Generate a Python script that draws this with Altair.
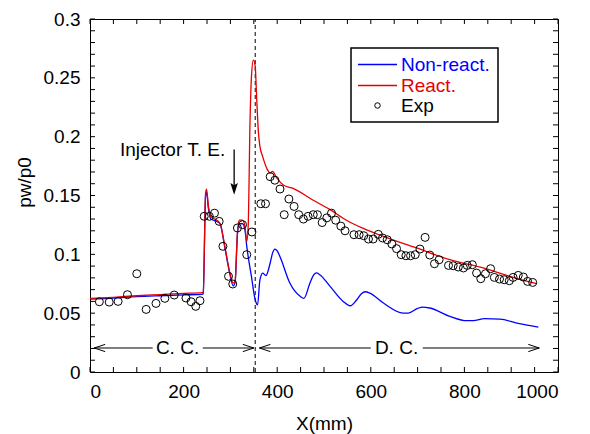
import altair as alt
import pandas as pd

FONT = "Liberation Sans"

# ---------------- data ----------------
series_names = ["Non-react.", "React.", "Exp"]
series_colors = ["#0000ff", "#e60000", "#000000"]

nr_x = [0, 50, 100, 150, 200, 240, 242, 247, 249, 253, 258, 271, 278, 288, 299, 306, 310,
        315, 319, 326, 331, 335, 345, 353, 358, 363, 369, 376, 385, 390, 395, 400, 406, 427,
        449, 457, 470, 478, 484, 491, 513, 541, 556, 570, 580, 588, 598, 627, 669, 680, 700,
        710, 726, 769, 805, 819, 843, 876, 912, 958]
nr_y = [0.0620, 0.0628, 0.0640, 0.0648, 0.0655, 0.0660, 0.0670, 0.1500, 0.1530, 0.1390,
        0.1300, 0.1280, 0.1260, 0.1060, 0.0830, 0.0733, 0.0760, 0.1170, 0.1260, 0.1260,
        0.1210, 0.1068, 0.0810, 0.0614, 0.0570, 0.0780, 0.0840, 0.0820, 0.0926, 0.1010,
        0.1045, 0.1030, 0.0980, 0.0756, 0.0643, 0.0626, 0.0756, 0.0825, 0.0842, 0.0827,
        0.0728, 0.0600, 0.0563, 0.0614, 0.0665, 0.0682, 0.0670, 0.0586, 0.0501, 0.0501,
        0.0540, 0.0552, 0.0544, 0.0473, 0.0436, 0.0436, 0.0453, 0.0450, 0.0416, 0.0382]

r_x = [0, 50, 100, 150, 200, 240, 242, 247, 249, 253, 258, 271, 278, 288, 299, 306, 310,
       315, 319, 326, 331, 335, 338, 342, 345, 349, 353, 356, 360, 363, 369, 379, 385,
       390, 399, 413, 434, 477, 513, 548, 584, 627, 698, 769, 840, 897, 955]
r_y = [0.0625, 0.0635, 0.0648, 0.0658, 0.0668, 0.0675, 0.0680, 0.1520, 0.1555, 0.1410,
       0.1320, 0.1290, 0.1260, 0.1070, 0.0840, 0.0756, 0.0770, 0.1180, 0.1290, 0.1290,
       0.1240, 0.1110, 0.1240, 0.2140, 0.2510, 0.2650, 0.2600, 0.2340, 0.2030, 0.1920,
       0.1830, 0.1720, 0.1690, 0.1705, 0.1650, 0.1590, 0.1560, 0.1460, 0.1380, 0.1290,
       0.1220, 0.1152, 0.1054, 0.0954, 0.0884, 0.0813, 0.0750]

exp_x = [20, 41, 60, 80, 100, 120, 141, 160, 180, 205, 216, 226, 235, 244, 255, 266, 276,
         284, 296, 305, 315, 326, 335, 346, 365, 375, 385, 395, 406, 415, 425, 436, 446,
         456, 466, 477, 486, 496, 506, 516, 525, 536, 545, 564, 575, 585, 595, 605, 616,
         625, 635, 645, 655, 665, 675, 685, 695, 705, 716, 726, 736, 746, 766, 776, 787,
         798, 806, 817, 826, 835, 845, 856, 864, 875, 885, 896, 904, 915, 926, 935, 946]
exp_y = [0.0597, 0.0594, 0.0600, 0.0657, 0.0835, 0.0532, 0.0583, 0.0626, 0.0654, 0.0629,
         0.0597, 0.0558, 0.0606, 0.1323, 0.1323, 0.1350, 0.1280, 0.1068, 0.0813, 0.0748,
         0.1224, 0.1252, 0.0997, 0.1190, 0.1430, 0.1430, 0.1660, 0.1630, 0.1555, 0.1337,
         0.1470, 0.1407, 0.1337, 0.1300, 0.1323, 0.1337, 0.1337, 0.1270, 0.1310, 0.1350,
         0.1290, 0.1240, 0.1200, 0.1167, 0.1167, 0.1158, 0.1130, 0.1130, 0.1170, 0.1139,
         0.1124, 0.1088, 0.1048, 0.0997, 0.0988, 0.0988, 0.0997, 0.1045, 0.1144, 0.0994,
         0.0920, 0.0954, 0.0906, 0.0903, 0.0892, 0.0884, 0.0906, 0.0912, 0.0841, 0.0793,
         0.0835, 0.0878, 0.0804, 0.0790, 0.0784, 0.0776, 0.0804, 0.0821, 0.0807, 0.0770,
         0.0761]

x_label_values = [0, 200, 400, 600, 800, 1000]
y_label_values = [0, 0.05, 0.1, 0.15, 0.2, 0.25, 0.3]
x_tick_values = list(range(0, 1001, 50))
y_tick_values = [round(i * 0.01, 2) for i in range(31)]

# annotations
dash_x = [353]
dash_y = [0, 0.3]
zone_labels = ["C. C.", "D. C."]
zone_label_x = [187, 655]
zone_y = 0.0204
seg_x1 = [9, 241, 362, 711]
seg_x2 = [134, 350, 600, 960]
tip_left_x = [9, 362]
tip_right_x = [350, 960]
inj_label = ["Injector T. E."]
inj_label_x = [64]
inj_label_y = [0.189]
inj_arrow_x = [308]
inj_arrow_y1 = [0.189]
inj_arrow_y2 = [0.156]
inj_tip_y = [0.1507]

W, H = 468, 353
TICK = 5

# legend layout (pixels inside the plot area)
LEG_BOX = (261, 29, 408, 103)
LEG_LINE_X = (268, 307)
LEG_TEXT_X = 311
LEG_ROW_Y = [45.5, 66.5, 86.5]

# ---------------- scales / axes ----------------
x_scale = alt.Scale(domain=[0, 1000], nice=False, zero=False)
y_scale = alt.Scale(domain=[0, 0.3], nice=False, zero=False)

x_axis = alt.Axis(title="X(mm)", values=x_label_values, format="d", ticks=False, tickSize=0,
                  domain=False, grid=False, labelFont=FONT, labelFontSize=19, labelPadding=10,
                  labelColor="black", titleFont=FONT, titleFontSize=19,
                  titleFontWeight="normal", titleColor="black", titleBaseline="alphabetic",
                  titleY=57)
y_axis = alt.Axis(title="pw/p0", values=y_label_values, format=".2~f", ticks=False,
                  tickSize=0, domain=False, grid=False, labelFont=FONT, labelFontSize=19,
                  labelPadding=10, labelColor="black", titleFont=FONT, titleFontSize=19,
                  titleFontWeight="normal", titleColor="black", titleAngle=270,
                  titleBaseline="alphabetic", titleAlign="center", titleX=-60, titleY=163)


def X(f):
    return alt.X(f, type="quantitative", scale=x_scale, axis=x_axis)


def Y(f):
    return alt.Y(f, type="quantitative", scale=y_scale, axis=y_axis)


color = alt.Color("series:N", scale=alt.Scale(domain=series_names, range=series_colors),
                  legend=None)

nr_df = pd.DataFrame({"x": nr_x, "y": nr_y, "series": series_names[0]})
r_df = pd.DataFrame({"x": r_x, "y": r_y, "series": series_names[1]})
exp_df = pd.DataFrame({"x": exp_x, "y": exp_y, "series": series_names[2]})

nr_line = alt.Chart(nr_df).mark_line(strokeWidth=1.3, interpolate="monotone").encode(
    x=X("x"), y=Y("y"), color=color)
r_line = alt.Chart(r_df).mark_line(strokeWidth=1.3, interpolate="monotone").encode(
    x=X("x"), y=Y("y"), color=color)
exp_pts = alt.Chart(exp_df).mark_point(filled=False, size=64, strokeWidth=1, opacity=1).encode(
    x=X("x"), y=Y("y"), color=color)

# ticks (inward)
xt = pd.DataFrame({"v": x_tick_values})
yt = pd.DataFrame({"v": y_tick_values})
tick_style = dict(color="black", strokeWidth=1)
xb = alt.Chart(xt).mark_rule(**tick_style).encode(x=X("v"), y=alt.value(H), y2=alt.value(H - TICK))
xtop = alt.Chart(xt).mark_rule(**tick_style).encode(x=X("v"), y=alt.value(0), y2=alt.value(TICK))
yl = alt.Chart(yt).mark_rule(**tick_style).encode(y=Y("v"), x=alt.value(0), x2=alt.value(TICK))
yr = alt.Chart(yt).mark_rule(**tick_style).encode(y=Y("v"), x=alt.value(W), x2=alt.value(W - TICK))

# dashed separator
dash = alt.Chart(pd.DataFrame({"x": dash_x, "y1": [dash_y[0]], "y2": [dash_y[1]]})).mark_rule(
    color="black", strokeWidth=1, strokeDash=[4, 3]).encode(x=X("x"), y=Y("y1"), y2="y2")

# zone arrows
seg_df = pd.DataFrame({"x1": seg_x1, "x2": seg_x2, "y": [zone_y] * len(seg_x1)})
segs = alt.Chart(seg_df).mark_rule(color="black", strokeWidth=1).encode(
    x=X("x1"), x2="x2", y=Y("y"))
tl = alt.Chart(pd.DataFrame({"x": tip_left_x, "y": [zone_y] * 2})).mark_point(
    shape="M 1 -0.33 L 0 0 L 1 0.33", filled=False, size=484, color="black", strokeWidth=1,
    opacity=1).encode(x=X("x"), y=Y("y"))
tr = alt.Chart(pd.DataFrame({"x": tip_right_x, "y": [zone_y] * 2})).mark_point(
    shape="M -1 -0.33 L 0 0 L -1 0.33", filled=False, size=484, color="black", strokeWidth=1,
    opacity=1).encode(x=X("x"), y=Y("y"))
zone_txt = alt.Chart(pd.DataFrame({"x": zone_label_x, "y": [zone_y] * 2, "t": zone_labels})).mark_text(
    font=FONT, fontSize=19, color="black", align="center", baseline="middle").encode(
    x=X("x"), y=Y("y"), text="t:N")

# injector annotation
inj_txt = alt.Chart(pd.DataFrame({"x": inj_label_x, "y": inj_label_y, "t": inj_label})).mark_text(
    font=FONT, fontSize=19, color="black", align="left", baseline="middle").encode(
    x=X("x"), y=Y("y"), text="t:N")
inj_line = alt.Chart(pd.DataFrame({"x": inj_arrow_x, "y1": inj_arrow_y1, "y2": inj_arrow_y2})).mark_rule(
    color="black", strokeWidth=1.3).encode(x=X("x"), y=Y("y1"), y2="y2")
inj_tip = alt.Chart(pd.DataFrame({"x": inj_arrow_x, "y": inj_tip_y})).mark_point(
    shape="M 0 0 L -0.32 -1 L 0 -0.8 L 0.32 -1 Z", filled=True, size=548, color="black",
    opacity=1, strokeWidth=0).encode(x=X("x"), y=Y("y"))

# ---------------- hand-built legend ----------------
one = pd.DataFrame({"a": [0]})
leg_layers = [
    alt.Chart(one).mark_rect(fill="white", stroke="black", strokeWidth=1.5).encode(
        x=alt.value(LEG_BOX[0]), x2=alt.value(LEG_BOX[2]),
        y=alt.value(LEG_BOX[1]), y2=alt.value(LEG_BOX[3]))
]
for i, (name, col) in enumerate(zip(series_names, series_colors)):
    ry = LEG_ROW_Y[i]
    if i < 2:
        leg_layers.append(alt.Chart(one).mark_rule(color=col, strokeWidth=1.3).encode(
            x=alt.value(LEG_LINE_X[0]), x2=alt.value(LEG_LINE_X[1]), y=alt.value(ry)))
    else:
        leg_layers.append(alt.Chart(one).mark_point(
            filled=False, size=30, color=col, strokeWidth=1, opacity=1).encode(
            x=alt.value((LEG_LINE_X[0] + LEG_LINE_X[1]) / 2), y=alt.value(ry)))
    leg_layers.append(alt.Chart(one).mark_text(
        font=FONT, fontSize=19, color=col, align="left", baseline="middle").encode(
        x=alt.value(LEG_TEXT_X), y=alt.value(ry), text=alt.value(name)))

chart = alt.layer(
    dash, segs, tl, tr, zone_txt, inj_txt, inj_line, inj_tip,
    xb, xtop, yl, yr,
    nr_line, r_line, exp_pts,
    *leg_layers,
).properties(
    width=W, height=H,
    autosize=alt.AutoSizeParams(type="none"),
    padding={"left": 82, "top": 11, "right": 16, "bottom": 62},
).configure_view(stroke="black", strokeWidth=1)

chart.save("out.html", embed_options={"renderer": "svg", "actions": False})
